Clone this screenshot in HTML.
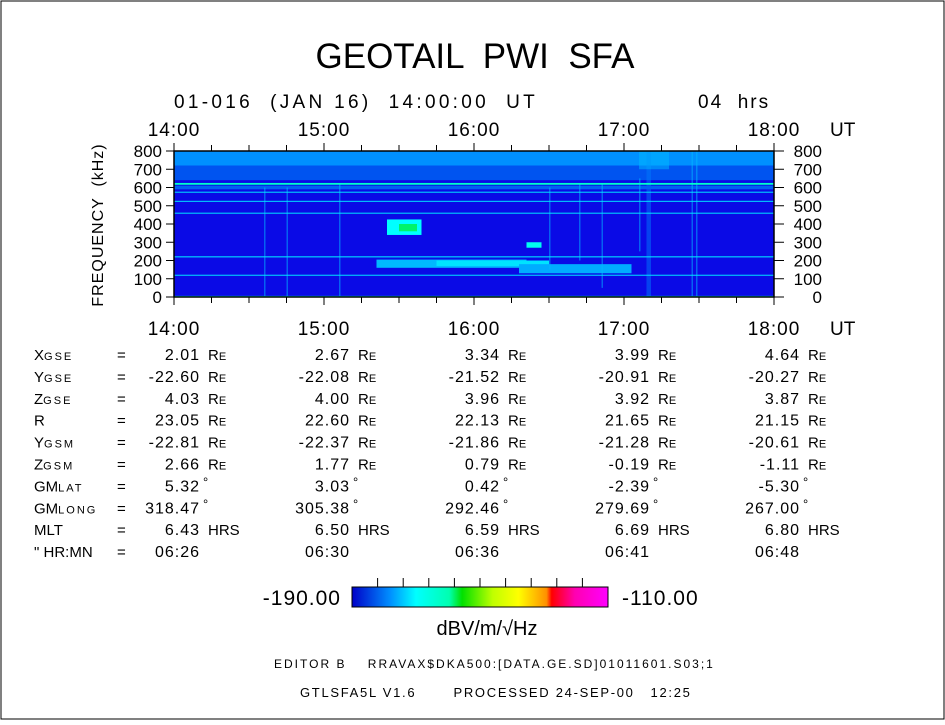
<!DOCTYPE html>
<html><head><meta charset="utf-8">
<style>
html,body{margin:0;padding:0;background:#fff;}
svg text{font-family:"Liberation Sans",sans-serif;fill:#000;white-space:pre;}
</style></head>
<body>
<svg id="chart" width="945" height="720" viewBox="0 0 945 720" xmlns="http://www.w3.org/2000/svg" xml:space="preserve">
<defs>
<linearGradient id="cbar" x1="0" x2="1" y1="0" y2="0">
<stop offset="0" stop-color="#0000c8"/>
<stop offset="0.15" stop-color="#0090ff"/>
<stop offset="0.25" stop-color="#00ffff"/>
<stop offset="0.38" stop-color="#00ffb0"/>
<stop offset="0.43" stop-color="#00e000"/>
<stop offset="0.55" stop-color="#c0ff00"/>
<stop offset="0.65" stop-color="#ffff00"/>
<stop offset="0.76" stop-color="#ff9000"/>
<stop offset="0.78" stop-color="#ff0000"/>
<stop offset="0.87" stop-color="#ff00b0"/>
<stop offset="1" stop-color="#ff00ff"/>
</linearGradient>
</defs>
<rect x="1" y="1" width="943" height="718" fill="#fff" stroke="#000" stroke-width="1"/>
<text x="475" y="68" font-size="35" text-anchor="middle">GEOTAIL  PWI  SFA</text>
<text x="174" y="108" font-size="19" letter-spacing="3.3">01-016  (JAN 16)  14:00:00  UT</text>
<text x="698" y="108" font-size="19" letter-spacing="2">04  hrs</text>
<g id="spec"></g>
<g id="axes"></g>
<text transform="translate(103,225) rotate(-90)" font-size="16" letter-spacing="1" text-anchor="middle">FREQUENCY  (kHz)</text>
<g id="table"></g>
<rect x="352" y="587" width="256" height="20" fill="url(#cbar)" stroke="#000"/>
<g id="cbticks"></g>
<text x="341" y="605" font-size="21" letter-spacing="1" text-anchor="end">-190.00</text>
<text x="622" y="605" font-size="21" letter-spacing="1">-110.00</text>
<text x="487" y="635" font-size="20" text-anchor="middle">dBV/m/√Hz</text>
<text x="274" y="668" font-size="12" letter-spacing="2.0">EDITOR B    RRAVAX$DKA500:[DATA.GE.SD]01011601.S03;1</text>
<text x="300" y="697" font-size="13" letter-spacing="1.7">GTLSFA5L V1.6       PROCESSED 24-SEP-00   12:25</text>
</svg>
<script>
// ---- data ----
const timeTicks = ["14:00","15:00","16:00","17:00","18:00"];
const freqTicks = [0,100,200,300,400,500,600,700,800];
// horizontal line emissions: frequency (kHz), half-width (kHz), level (dB)
const lineFreqs = [620, 575, 525, 460, 220, 120, 3];
const lineHalfW = [5, 2, 2, 2, 3, 2, 3];
const lineLevels = [-163, -172, -172, -172, -172, -172, -168];
// patches: start hour, end hour, low kHz, high kHz, level dB
const patchT0 = [0, 0, 1.35, 1.75, 2.3, 1.42, 1.5, 2.35, 3.15, 0, 3.1];
const patchT1 = [4, 4, 2.35, 2.5, 3.05, 1.65, 1.62, 2.45, 3.18, 4, 3.3];
const patchF0 = [640, 720, 160, 170, 130, 340, 360, 270, 0, 590, 700];
const patchF1 = [720, 800, 205, 200, 180, 425, 400, 300, 800, 610, 800];
const patchLv = [-183, -178, -175, -172, -176, -170, -158, -168, -180, -182, -175];
// vertical streaks: hour, low kHz, high kHz
const streakT = [0.6, 0.75, 1.1, 2.5, 2.7, 2.85, 3.1, 3.45, 3.48];
const streakF0 = [0, 0, 0, 150, 200, 50, 250, 0, 0];
const streakF1 = [600, 600, 620, 600, 620, 620, 650, 800, 800];
// orbit table
const rowLabels = ["X","Y","Z","R","Y","Z","GM","GM","MLT","\" HR:MN"];
const rowSubs = ["GSE","GSE","GSE","","GSM","GSM","LAT","LONG","",""];
const rowUnits = ["RE","RE","RE","RE","RE","RE","°","°","HRS",""];
const col0 = ["2.01","-22.60","4.03","23.05","-22.81","2.66","5.32","318.47","6.43","06:26"];
const col1 = ["2.67","-22.08","4.00","22.60","-22.37","1.77","3.03","305.38","6.50","06:30"];
const col2 = ["3.34","-21.52","3.96","22.13","-21.86","0.79","0.42","292.46","6.59","06:36"];
const col3 = ["3.99","-20.91","3.92","21.65","-21.28","-0.19","-2.39","279.69","6.69","06:41"];
const col4 = ["4.64","-20.27","3.87","21.15","-20.61","-1.11","-5.30","267.00","6.80","06:48"];
const cols = [col0,col1,col2,col3,col4];

// ---- geometry ----
const NS="http://www.w3.org/2000/svg";
const X0=174, X1=774, Y0=297, Y1=151;
const xs = h => X0 + (X1-X0)*h/4;
const ys = f => Y0 - (Y0-Y1)*f/800;
function colorOf(db){
  const t=Math.max(0,Math.min(1,(db+190)/80));
  const stops=[[0,[0,0,220]],[0.15,[0,144,255]],[0.25,[0,255,255]],[0.38,[0,255,176]],[0.43,[0,224,0]],[0.55,[192,255,0]],[0.65,[255,255,0]],[0.78,[255,0,0]],[1,[255,0,255]]];
  for(let i=1;i<stops.length;i++){ if(t<=stops[i][0]){const a=stops[i-1],b=stops[i];const u=(t-a[0])/(b[0]-a[0]);
    return "rgb("+a[1].map((v,k)=>Math.round(v+(b[1][k]-v)*u)).join(",")+")";}}
  return "rgb(255,0,255)";
}
function mk(tag,attrs,parent){const e=document.createElementNS(NS,tag);for(const k in attrs)e.setAttribute(k,attrs[k]);parent.appendChild(e);return e;}

const spec=document.getElementById('spec');
let bg=mk('rect',{x:X0,y:Y1,width:X1-X0,height:Y0-Y1,fill:"#0a0ae6"},spec);


patchT0.forEach((t0,i)=>{
  const r=mk('rect',{x:xs(t0),y:ys(patchF1[i]),width:Math.max(2,xs(patchT1[i])-xs(t0)),height:ys(patchF0[i])-ys(patchF1[i]),fill:colorOf(patchLv[i]),opacity:(i===8||i===10)?0.5:1},spec);
  
  
});
streakT.forEach((t,i)=>{
  const r=mk('rect',{x:xs(t),y:ys(streakF1[i]),width:1.5,height:ys(streakF0[i])-ys(streakF1[i]),fill:colorOf(-175),opacity:0.5},spec);
  
  
});
lineFreqs.forEach((f,i)=>{
  const r=mk('rect',{x:X0,y:ys(f+lineHalfW[i]),width:X1-X0,height:Math.max(1,ys(f-lineHalfW[i])-ys(f+lineHalfW[i])),fill:colorOf(lineLevels[i])},spec);
  
  
});

const ax=document.getElementById('axes');
let fr=mk('rect',{x:X0,y:Y1,width:X1-X0,height:Y0-Y1,fill:"none",stroke:"#000","stroke-width":1.5},ax);


for(let q=0;q<=16;q++){
  const x=xs(q/4), L=q%4===0?8:6;
  mk('line',{x1:x,x2:x,y1:Y1-L,y2:Y1,stroke:"#000"},ax);
  mk('line',{x1:x,x2:x,y1:Y0,y2:Y0+L,stroke:"#000"},ax);
}
timeTicks.forEach((s,i)=>{
  const a=mk('text',{x:xs(i),y:136,"font-size":19,"letter-spacing":1,"text-anchor":"middle"},ax);a.textContent=s;
  
  
  const b=mk('text',{x:xs(i),y:335,"font-size":19,"letter-spacing":1,"text-anchor":"middle"},ax);b.textContent=s;
  
  
});
[136,335].forEach(y=>{const u=mk('text',{x:830,y:y,"font-size":19},ax);u.textContent="UT";
  
  });
freqTicks.forEach(f=>{
  const y=ys(f);
  mk('line',{x1:X0-8,x2:X0,y1:y,y2:y,stroke:"#000"},ax);
  mk('line',{x1:X1,x2:X1+10,y1:y,y2:y,stroke:"#000"},ax);
  const a=mk('text',{x:X0-12,y:y+6,"font-size":17,"text-anchor":"end"},ax);a.textContent=f;
  
  
  const b=mk('text',{x:X1+48,y:y+6,"font-size":17,"text-anchor":"end"},ax);b.textContent=f;
  
  
});

const cbt=document.getElementById('cbticks');
for(let i=1;i<10;i++){const x=352+256*i/10;mk('line',{x1:x,x2:x,y1:578,y2:587,stroke:"#000"},cbt);}

const tb=document.getElementById('table');
const colEnd=[200,350,500,650,800];
rowLabels.forEach((lab,r)=>{
  const y=360+r*21.9;
  const t=mk('text',{x:34,y:y,"font-size":15},tb);
  
  
  t.textContent=lab;
  if(rowSubs[r]){const s=mk('tspan',{"font-size":11,"letter-spacing":2},t);s.textContent=rowSubs[r];}
  const eq=mk('text',{x:117,y:y,"font-size":15},tb);eq.textContent="=";
  
  
  cols.forEach((c,ci)=>{
    const v=mk('text',{x:colEnd[ci],y:y,"font-size":16,"letter-spacing":1,"text-anchor":"end"},tb);v.textContent=c[r];
    
    
    const u=rowUnits[r];
    if(u){const ut=mk('text',{x:colEnd[ci]+(u==="°"?3:8),y:u==="°"?y-5:y,"font-size":u==="RE"?15:(u==="°"?13:15)},tb);
      ut.textContent=u==="RE"?"R":u;
      if(u==="RE"){const s=mk('tspan',{"font-size":11},ut);s.textContent="E";}
      
      }
  });
});
</script>
</body></html>
